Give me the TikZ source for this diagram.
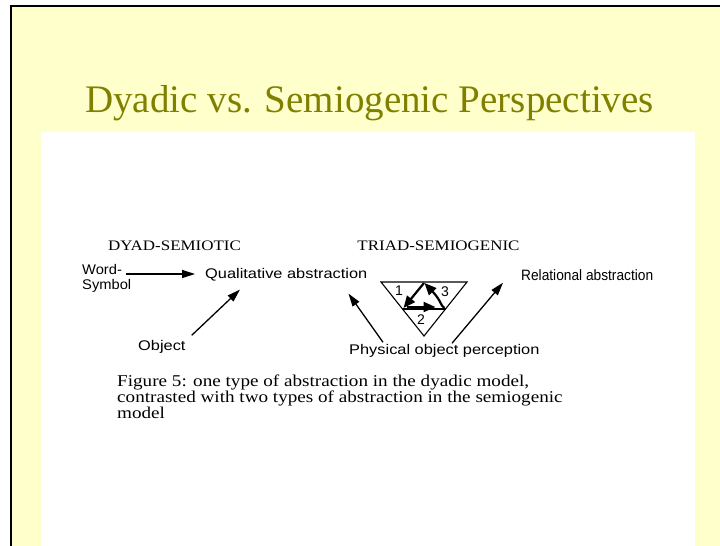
\documentclass[tikz,border=0pt]{standalone}
\usepackage{fontspec}
\setmainfont{Liberation Serif}
\setsansfont{Liberation Sans}
\usetikzlibrary{arrows.meta}
\definecolor{slidebg}{HTML}{FFFFCC}
\definecolor{titleol}{HTML}{808000}
\newcommand\sx[1]{\scalebox{1.17}[1]{#1}}
\begin{document}
\begin{tikzpicture}[x=1pt,y=-1pt,
  sanslbl/.style={font=\fontsize{14}{14}\selectfont\sffamily, inner sep=0pt},
  headlbl/.style={font=\fontsize{14.5}{16}\selectfont\rmfamily, inner sep=0pt},
  numlbl/.style={font=\fontsize{14}{14}\selectfont\sffamily, inner sep=0pt},
  arr/.style={line width=1.3pt, -{Triangle[length=13pt,width=8pt]}},
  triarr/.style={line width=2.2pt, -{Triangle[length=12pt,width=10pt]}},
  edge/.style={line width=1.1pt}]
\useasboundingbox (0,0) rectangle (720,546);
% slide background
\fill[white] (0,0) rectangle (720,546);
\fill[slidebg] (11,6) rectangle (720,546);
\draw[line width=2pt] (11,546) -- (11,6) -- (720,6);
\fill[white] (41,132) rectangle (695,546);
% title
\node[font=\fontsize{39}{44}\selectfont, text=titleol, anchor=base, inner sep=0pt] (title) at (369.5,112) {Dyadic vs. Semiogenic Perspectives};
% headings
\node[headlbl, anchor=base] (dyad) at (174.5,250) {\sx{DYAD-SEMIOTIC}};
\node[headlbl, anchor=base] (triad) at (438.5,250) {\sx{TRIAD-SEMIOGENIC}};
% dyadic part
\node[sanslbl, anchor=west] (word) at (82,279) {\scalebox{1.05}[1]{\begin{tabular}{@{}l@{}}Word-\\Symbol\end{tabular}}};
\node[sanslbl, anchor=west] (qual) at (205,275) {\sx{Qualitative abstraction}};
\node[sanslbl, anchor=west] (obj) at (138,347) {\sx{Object}};
\draw[arr] ([shift={(-5,-5)}]word.east) -- ([shift={(-10,-1)}]qual.west);
\draw[arr] ([shift={(6,-5)}]obj.north east) -- ([shift={(35,8)}]qual.south west);
% triadic part
\node[sanslbl, anchor=west] (phys) at (349,351) {\sx{Physical object perception}};
\node[sanslbl, font=\fontsize{15}{15}\selectfont\sffamily, anchor=west] (rel) at (521,275) {\scalebox{0.915}[1]{Relational abstraction}};
\draw[arr] ([shift={(34,-2)}]phys.north west) -- ([shift={(-19,12)}]qual.south east);
\draw[arr] ([shift={(103,-1)}]phys.north west) -- ([shift={(-18,2)}]rel.south west);
% triangle
\coordinate (tl) at (381,282);
\coordinate (tr) at (467,282);
\coordinate (bt) at (424,336);
\coordinate (tm) at (424,282);
\coordinate (lm) at (402.5,309);
\coordinate (rm) at (445.5,309);
\draw[edge, line join=miter] (tl) -- (tr) -- (bt) -- cycle;
\draw[edge] (lm) -- (rm);
\draw[triarr] ([shift={(0,1)}]tm) -- ([shift={(1,-1)}]lm);
\draw[triarr] ([shift={(4,-2)}]lm) -- ([shift={(-10,-2)}]rm);
\draw[triarr] ([shift={(-1,-1)}]rm) .. controls ([shift={(-5,-3)}]rm) and ([shift={(-4,-8)}]rm) .. ([shift={(0.5,1)}]tm);
\node[numlbl] (n1) at (399,291) {1};
\node[numlbl] (n2) at (421,320) {2};
\node[numlbl] (n3) at (445,292) {3};
% caption
\node[font=\fontsize{16.5}{15.5}\selectfont\rmfamily, anchor=base west, inner sep=0pt] (cap) at (117,386)
  {\scalebox{1.16}[1]{\begin{tabular}[t]{@{}l@{}}Figure 5: one type of abstraction in the dyadic model,\\contrasted with two types of abstraction in the semiogenic\\model\end{tabular}}};
\end{tikzpicture}
\end{document}
